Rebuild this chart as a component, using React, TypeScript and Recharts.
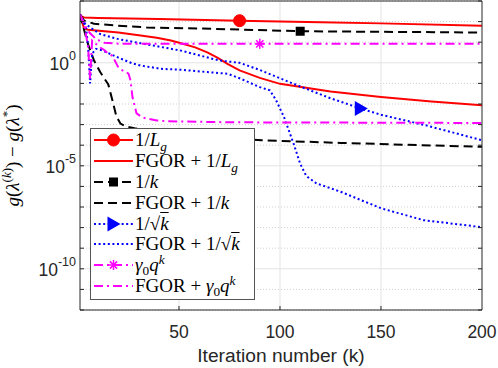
import React from 'react'
import { LineChart, Line, XAxis, YAxis, CartesianGrid, Legend } from 'recharts'

// objective gap g(λ^(k)) - g(λ*) per iteration
const kLg = [1, 2, 3, 10, 40, 80, 120, 150, 200]
const gapLg = [220, 174, 158, 151, 135, 111, 93, 82, 63]

const kFgorLg = [1, 3, 5, 20, 31, 39, 46, 51, 58, 64, 69, 74, 80, 90, 100, 125, 150, 175, 200]
const gapFgorLg = [220, 46, 40, 29.5, 20.9, 16.6, 12.0, 8.9, 5.6, 3.2, 1.78, 0.89, 0.43, 0.186, 0.095, 0.04, 0.022, 0.0132, 0.0087]

const kInv = [1, 3, 8, 20, 34, 60, 80, 110, 150, 200]
const gapInv = [220, 112, 78, 63, 52, 46, 41, 34, 32, 29.5]

const kFgorInv = [1, 3, 5, 8, 11, 15, 17, 19, 21, 24, 28, 50, 91, 130, 200]
const gapFgorInv = [220, 40, 7.9, 1.26, 0.355, 0.089, 0.0158, 2.5e-3, 1.12e-3, 7.9e-4, 6.6e-4, 3.5e-4, 1.74e-4, 1.29e-4, 8.3e-5]

const kSqrt = [1, 3, 6, 11, 20, 31, 51, 70, 80, 90, 100, 110, 125, 140, 150, 172, 200]
const gapSqrt = [220, 89, 52, 25, 14.1, 8.9, 3.9, 1.29, 1.0, 0.45, 0.178, 0.071, 0.019, 6.0e-3, 3.0e-3, 9.3e-4, 1.74e-4]

const kFgorSqrt = [1, 4, 5, 6, 7, 9, 12, 20, 27, 31, 41, 51, 64, 74, 80, 90, 95, 98, 102, 107, 110, 113, 118, 130, 150, 171, 200]
const gapFgorSqrt = [220, 50, 6.3, 0.1, 2.8, 4.8, 4.0, 1.78, 0.93, 0.74, 0.51, 0.46, 0.355, 0.295, 0.178, 0.066, 0.046, 0.0158, 2.3e-3, 1e-4, 1.26e-5, 3.2e-6, 1.4e-6, 5.5e-7, 8.7e-8, 2.3e-8, 1.05e-8]

const kGeo = [1, 2, 4, 6, 9, 13, 20, 90, 200]
const gapGeo = [220, 130, 50, 27, 14, 9.5, 8.4, 8.3, 8.3]

const kFgorGeo = [1, 3, 5, 6, 7, 11, 13, 15, 17, 20, 22, 25, 26, 27, 29, 32, 34, 39, 44, 77, 200]
const gapFgorGeo = [220, 80, 6, 0.17, 12, 5.5, 4.2, 2.8, 2.2, 0.59, 0.43, 0.3, 0.14, 0.021, 3.5e-3, 2.2e-3, 2.0e-3, 1.6e-3, 1.45e-3, 1.29e-3, 1.2e-3]

const xTicks = [50, 100, 150, 200]
const yDecades = [1e-12, 1e-11, 1e-10, 1e-9, 1e-8, 1e-7, 1e-6, 1e-5, 1e-4, 1e-3, 1e-2, 1e-1, 1e0, 1e1, 1e2, 1e3]
const yMajor = [1e-10, 1e-5, 1e0]
const yLabels: Record<string, string> = { '1e-10': '-10', '0.00001': '-5', '1': '0' }

const toPoints = (ks: number[], vs: number[]) => ks.map((k, i) => ({ k, v: vs[i] }))

const DASH = '9 5'
const DOT = '2 2.6'
const DASHDOT = '9 4 2 4'

const sqrtK = (
  <>
    √<span style={{ textDecoration: 'overline' }}><i>k</i></span>
  </>
)
const lgLabel = (
  <>
    1/<i>L</i>
    <sub style={{ fontSize: '0.7em', verticalAlign: '-0.35em', lineHeight: 0 }}><i>g</i></sub>
  </>
)
const geoLabel = (
  <>
    <i>γ</i>
    <sub style={{ fontSize: '0.7em', verticalAlign: '-0.3em', lineHeight: 0 }}>0</sub>
    <i>q</i>
    <sup style={{ fontSize: '0.7em', verticalAlign: '0.5em', lineHeight: 0 }}><i>k</i></sup>
  </>
)

const series = [
  { id: 'lg', label: lgLabel, data: toPoints(kLg, gapLg), color: '#ff0000', dash: undefined, marker: 'circle', markerK: 80 },
  { id: 'fgorLg', label: <>FGOR + {lgLabel}</>, data: toPoints(kFgorLg, gapFgorLg), color: '#ff0000', dash: undefined, marker: null, markerK: 0 },
  { id: 'inv', label: <>1/<i>k</i></>, data: toPoints(kInv, gapInv), color: '#000000', dash: DASH, marker: 'square', markerK: 110 },
  { id: 'fgorInv', label: <>FGOR + 1/<i>k</i></>, data: toPoints(kFgorInv, gapFgorInv), color: '#000000', dash: DASH, marker: null, markerK: 0 },
  { id: 'sqrt', label: <>1/{sqrtK}</>, data: toPoints(kSqrt, gapSqrt), color: '#0000ff', dash: DOT, marker: 'triangle', markerK: 140 },
  { id: 'fgorSqrt', label: <>FGOR + 1/{sqrtK}</>, data: toPoints(kFgorSqrt, gapFgorSqrt), color: '#0000ff', dash: DOT, marker: null, markerK: 0 },
  { id: 'geo', label: geoLabel, data: toPoints(kGeo, gapGeo), color: '#ff00ff', dash: DASHDOT, marker: 'asterisk', markerK: 90 },
  { id: 'fgorGeo', label: <>FGOR + {geoLabel}</>, data: toPoints(kFgorGeo, gapFgorGeo), color: '#ff00ff', dash: DASHDOT, marker: null, markerK: 0 },
]

const AXIS = '#262626'
const SANS = '"Liberation Sans", Arial, sans-serif'
const SERIF = '"Liberation Serif", "Times New Roman", serif'

function Marker({ shape, color, cx, cy }: { shape: string; color: string; cx: number; cy: number }) {
  if (shape === 'circle') return <circle cx={cx} cy={cy} r={6} fill={color} stroke={color} />
  if (shape === 'square') return <rect x={cx - 4.5} y={cy - 4.5} width={9} height={9} fill={color} />
  if (shape === 'triangle')
    return <polygon points={`${cx + 7},${cy} ${cx - 6},${cy - 7.5} ${cx - 6},${cy + 7.5}`} fill={color} />
  if (shape === 'asterisk')
    return (
      <g stroke={color} strokeWidth={1.5}>
        <line x1={cx - 5} y1={cy} x2={cx + 5} y2={cy} />
        <line x1={cx} y1={cy - 5} x2={cx} y2={cy + 5} />
        <line x1={cx - 3.6} y1={cy - 3.6} x2={cx + 3.6} y2={cy + 3.6} />
        <line x1={cx - 3.6} y1={cy + 3.6} x2={cx + 3.6} y2={cy - 3.6} />
      </g>
    )
  return null
}

const markerDot = (shape: string | null, color: string, atK: number) => (props: any) => {
  const { cx, cy, payload, index } = props
  if (!shape || payload.k !== atK || cx == null) return <g key={index} />
  return (
    <g key={index}>
      <Marker shape={shape} color={color} cx={cx} cy={cy} />
    </g>
  )
}

// MATLAB style ticks: drawn inward
const BottomTick = (props: any) => {
  const { x, y, payload } = props
  return (
    <g>
      {payload.value !== 200 && <line x1={x} x2={x} y1={y} y2={y - 4} stroke={AXIS} />}
      <text x={x} y={y + 28} textAnchor="middle" fill={AXIS} fontSize={17.5} fontFamily={SANS}>
        {payload.value}
      </text>
    </g>
  )
}

const TopTick = (props: any) => {
  const { x, y } = props
  return <line x1={x} x2={x} y1={y} y2={y + 4} stroke={AXIS} />
}

const LeftTick = (props: any) => {
  const { x, y, payload } = props
  const exp = yLabels[String(payload.value)]
  return (
    <g>
      <line x1={x} x2={x + 4} y1={y} y2={y} stroke={AXIS} />
      {exp && (
        <text x={x - 4} y={y + 7} textAnchor="end" fill={AXIS} fontFamily={SANS} fontSize={17.5}>
          10
          <tspan dy={-10} fontSize={12.5}>
            {exp}
          </tspan>
        </text>
      )}
    </g>
  )
}

const RightTick = (props: any) => {
  const { x, y } = props
  return <line x1={x} x2={x - 4} y1={y} y2={y} stroke={AXIS} />
}

const YLabel = (props: any) => {
  const vb = props.viewBox
  const cy = vb.y + vb.height / 2
  const cx = 19
  return (
    <text
      x={cx}
      y={cy}
      transform={`rotate(-90 ${cx} ${cy})`}
      textAnchor="middle"
      fontFamily={SERIF}
      fontSize={19}
      fill="#000"
    >
      <tspan fontStyle="italic">g</tspan>(<tspan fontStyle="italic">λ</tspan>
      <tspan dy={-8} fontSize={13}>
        (<tspan fontStyle="italic">k</tspan>)
      </tspan>
      <tspan dy={8}>) − </tspan>
      <tspan fontStyle="italic">g</tspan>(<tspan fontStyle="italic">λ</tspan>
      <tspan dy={-8} fontSize={13}>*</tspan>
      <tspan dy={8}>)</tspan>
    </text>
  )
}

const XLabel = (props: any) => {
  const vb = props.viewBox
  return (
    <text x={vb.x + vb.width / 2} y={vb.y + 52} textAnchor="middle" fontFamily={SANS} fontSize={19.2} fill={AXIS}>
      Iteration number (k)
    </text>
  )
}

const LegendBox = () => (
  <div
    style={{
      width: 165,
      height: 172,
      boxSizing: 'border-box',
      border: '1px solid #555',
      background: '#fff',
      fontFamily: SERIF,
      fontSize: 19,
      color: '#000',
      paddingTop: 1,
    }}
  >
    {series.map((s) => (
      <div key={s.id} style={{ display: 'flex', alignItems: 'center', height: 20.8, whiteSpace: 'nowrap' }}>
        <svg width={44} height={20} style={{ flex: 'none' }}>
          <line x1={3} x2={42} y1={10} y2={10} stroke={s.color} strokeWidth={2} strokeDasharray={s.dash} />
          {s.marker && <Marker shape={s.marker} color={s.color} cx={22.5} cy={10} />}
        </svg>
        <span style={{ lineHeight: '20px' }}>{s.label}</span>
      </div>
    ))}
  </div>
)

export default function App() {
  return (
    <div style={{ position: 'absolute', left: 0, top: 0, background: '#fff' }}>
      <LineChart width={498} height={368} margin={{ top: 0, right: 15, bottom: 0, left: 0 }}>
        <CartesianGrid
          horizontal
          vertical={false}
          horizontalValues={yDecades.filter((d) => !yMajor.includes(d))}
          stroke="#d0d0d0"
          strokeDasharray="1 2"
        />
        <CartesianGrid horizontalValues={yMajor} verticalValues={[50, 100, 150]} stroke="#e3e3e3" />
        <XAxis
          dataKey="k"
          type="number"
          domain={[1, 200]}
          allowDataOverflow
          ticks={xTicks}
          height={58}
          tickSize={0}
          tickMargin={0}
          tickLine={false}
          tick={<BottomTick />}
          axisLine={{ stroke: AXIS }}
          label={<XLabel />}
        />
        <XAxis
          xAxisId="top"
          orientation="top"
          type="number"
          domain={[1, 200]}
          allowDataOverflow
          ticks={[50, 100, 150]}
          height={1}
          tickSize={0}
          tickMargin={0}
          tickLine={false}
          tick={<TopTick />}
          axisLine={{ stroke: AXIS }}
        />
        <YAxis
          scale="log"
          type="number"
          domain={[1e-12, 1e3]}
          allowDataOverflow
          ticks={yDecades}
          interval={0}
          width={80}
          tickSize={0}
          tickMargin={0}
          tickLine={false}
          tick={<LeftTick />}
          axisLine={{ stroke: AXIS }}
          label={<YLabel />}
        />
        <YAxis
          yAxisId="right"
          orientation="right"
          scale="log"
          type="number"
          domain={[1e-12, 1e3]}
          allowDataOverflow
          ticks={yDecades}
          interval={0}
          width={1}
          tickSize={0}
          tickMargin={0}
          tickLine={false}
          tick={<RightTick />}
          axisLine={{ stroke: AXIS }}
        />
        {series.map((s) => (
          <Line
            key={s.id}
            data={s.data}
            dataKey="v"
            type="linear"
            stroke={s.color}
            strokeWidth={2}
            strokeDasharray={s.dash}
            dot={markerDot(s.marker, s.color, s.markerK)}
            activeDot={false}
            isAnimationActive={false}
          />
        ))}
        <Legend
          layout="vertical"
          align="center"
          verticalAlign="middle"
          content={<LegendBox />}
          wrapperStyle={{ left: 90, top: 128, width: 165, height: 172 }}
        />
      </LineChart>
    </div>
  )
}
